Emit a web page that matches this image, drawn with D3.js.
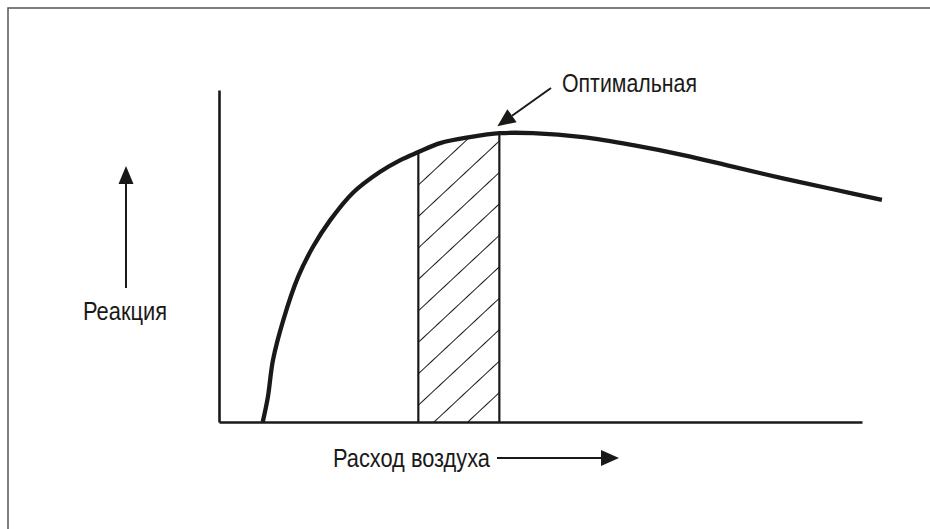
<!DOCTYPE html>
<html>
<head>
<meta charset="utf-8">
<script src="https://cdn.jsdelivr.net/npm/d3@7"></script>
<style>
  html, body { margin: 0; padding: 0; background: #fff; overflow: hidden; }
  text { font-family: "Liberation Sans Narrow", "Arial Narrow", "Liberation Sans", sans-serif; fill: #1b1918; }
</style>
</head>
<body>
<script>
// размеры
const width = 930;
const height = 529;

// данные кривой (расход воздуха -> реакция), в условных единицах
const airFlow  = [6.8, 7.6, 8.4, 10.0, 12.3, 14.6, 17.3, 20.8, 25.0, 28.2, 31.0, 34.4, 39.0, 43.7, 48.8, 56.6, 64.4, 72.2, 79.9, 87.7, 95.5, 103.1];
const response = [0, 7.5, 18.7, 30.7, 43.7, 52.7, 60.8, 69.0, 75.3, 78.9, 81.3, 84.0, 85.8, 87.0, 87.0, 85.8, 83.4, 80.4, 76.9, 73.4, 70.1, 66.9];

// оптимальная зона
const optimalBand = [31.0, 43.6];

// подписи
const labels = {
  optimal: "Оптимальная",
  yTitle: "Реакция",
  xTitle: "Расход воздуха"
};

const data = airFlow.map((v, i) => ({ x: v, y: response[i] }));

const x = d3.scaleLinear().domain([0, 100]).range([219, 862]);
const y = d3.scaleLinear().domain([0, 100]).range([422, 90]);

const ink = "#1b1918";

const svg = d3.select("body").append("svg")
  .attr("width", width)
  .attr("height", height);

// рамка
svg.append("rect")
  .attr("x", 8).attr("y", 8)
  .attr("width", width + 20).attr("height", height + 20)
  .attr("fill", "none")
  .attr("stroke", "#555")
  .attr("stroke-width", 1.5);

const defs = svg.append("defs");

// штриховка
const angle = 47;
const step = 23;
defs.append("pattern")
  .attr("id", "hatch")
  .attr("patternUnits", "userSpaceOnUse")
  .attr("width", step)
  .attr("height", 10)
  .attr("patternTransform", `translate(${x(optimalBand[0]) + 15},${y(0)}) rotate(${angle})`)
  .append("line")
  .attr("x1", 0).attr("y1", -5)
  .attr("x2", 0).attr("y2", 15)
  .attr("stroke", ink)
  .attr("stroke-width", 2);

const curve = d3.curveCatmullRom.alpha(0.5);

const area = d3.area()
  .x(d => x(d.x))
  .y0(y(0))
  .y1(d => y(d.y))
  .curve(curve);

defs.append("clipPath")
  .attr("id", "under-curve")
  .append("path")
  .datum(data)
  .attr("d", area);

const band = svg.append("g").attr("clip-path", "url(#under-curve)");

band.append("rect")
  .attr("x", x(optimalBand[0]))
  .attr("y", y(100))
  .attr("width", x(optimalBand[1]) - x(optimalBand[0]))
  .attr("height", y(0) - y(100))
  .attr("fill", "url(#hatch)");

band.selectAll("line.edge")
  .data(optimalBand)
  .enter()
  .append("line")
  .attr("class", "edge")
  .attr("x1", d => x(d)).attr("x2", d => x(d))
  .attr("y1", y(0)).attr("y2", y(100))
  .attr("stroke", ink)
  .attr("stroke-width", 2.2);

// оси без делений
svg.append("g")
  .attr("transform", `translate(0,${y(0)})`)
  .call(d3.axisBottom(x).ticks(0).tickSizeOuter(0))
  .call(g => g.select(".domain").attr("stroke", ink).attr("stroke-width", 2.6));

svg.append("g")
  .attr("transform", `translate(${x(0)},0)`)
  .call(d3.axisLeft(y).ticks(0).tickSizeOuter(0))
  .call(g => g.select(".domain").attr("stroke", ink).attr("stroke-width", 2.6));

// кривая
const line = d3.line()
  .x(d => x(d.x))
  .y(d => y(d.y))
  .curve(curve);

svg.append("path")
  .datum(data)
  .attr("fill", "none")
  .attr("stroke", ink)
  .attr("stroke-width", 4.3)
  .attr("d", line);

// стрелка
function arrow(x1, y1, x2, y2, len, half) {
  const a = Math.atan2(y2 - y1, x2 - x1);
  const bx = x2 - len * Math.cos(a), by = y2 - len * Math.sin(a);
  svg.append("line")
    .attr("x1", x1).attr("y1", y1)
    .attr("x2", bx).attr("y2", by)
    .attr("stroke", ink)
    .attr("stroke-width", 2);
  const px = -Math.sin(a) * half, py = Math.cos(a) * half;
  svg.append("path")
    .attr("d", `M${x2},${y2}L${bx + px},${by + py}L${bx - px},${by - py}Z`)
    .attr("fill", ink);
}

// узкий шрифт: сжимаем текст до ширины оригинала
function label(tx, ty, str, w, anchor) {
  svg.append("text")
    .attr("x", tx).attr("y", ty)
    .attr("font-size", 25)
    .attr("text-anchor", anchor || "start")
    .attr("textLength", w)
    .attr("lengthAdjust", "spacingAndGlyphs")
    .text(str);
}

// Оптимальная
const peak = data[13];
arrow(551, 88, x(optimalBand[1]) - 2, y(peak.y) - 7, 18, 8);
label(562, 92, labels.optimal, 135);

// Реакция
arrow(126, 288, 126, 166, 18, 7.5);
label(83, 320, labels.yTitle, 84);

// Расход воздуха
label(333, 467, labels.xTitle, 157);
arrow(497, 458, 619, 458, 18, 8);
</script>
</body>
</html>
